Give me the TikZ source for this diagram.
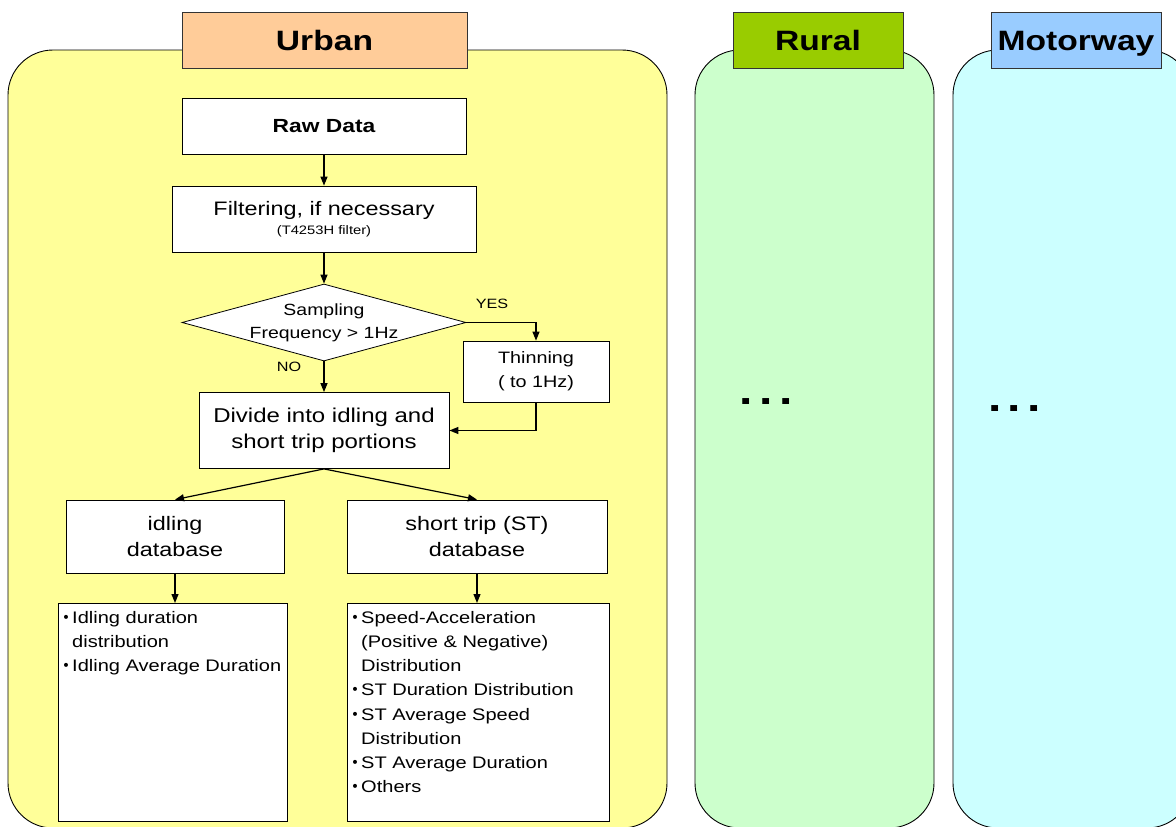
\documentclass[tikz,border=0pt]{standalone}
\usepackage{fontspec}
\setmainfont{Liberation Sans}[FakeStretch=1.2]
\newfontfamily\cjk{Noto Sans CJK JP}
\usetikzlibrary{shapes.geometric,arrows.meta}
\definecolor{urbanbg}{HTML}{FFFF99}
\definecolor{urbanlab}{HTML}{FFCC99}
\definecolor{ruralbg}{HTML}{CCFFCC}
\definecolor{rurallab}{HTML}{99CC00}
\definecolor{motorbg}{HTML}{CCFFFF}
\definecolor{motorlab}{HTML}{99CCFF}
\newcommand{\fsz}[2]{\fontsize{#1}{#2}\selectfont}
\newcommand{\bul}{\makebox[12pt][l]{\raisebox{-3pt}{\fsz{24}{24}\cjk ･}}}
\newcommand{\ind}{\hspace*{12pt}}
\begin{document}
\begin{tikzpicture}[x=1pt,y=-1pt,
  panel/.style={draw=black, line width=0.9pt, rounded corners=45pt},
  titlebox/.style={draw=black!80, line width=0.9pt, inner sep=0pt, text height=20pt, text depth=0pt, font=\fsz{28}{32}\bfseries},
  flowbox/.style={draw=black, fill=white, line width=0.8pt, inner sep=0pt, align=center},
  listbox/.style={draw=black, fill=white, line width=0.8pt, inner sep=0pt, anchor=north west},
  listtext/.style={inner sep=0pt, anchor=north west, align=left, font=\fsz{16.7}{24.2}},
  arr/.style={draw=black, line width=1.2pt, -{Triangle[length=9pt,width=7pt]}},
  lbl/.style={inner sep=0pt, font=\fsz{13.5}{16}},
  dots/.style={inner sep=0pt, font=\fsz{40}{40}\bfseries}
]
\useasboundingbox (0,0) rectangle (1176,827);
\clip (0,0) rectangle (1176,827);
% panels
\draw[panel, fill=urbanbg] (8,50) rectangle (667,828);
\draw[panel, fill=ruralbg] (695,50) rectangle (934,828);
\draw[panel, fill=motorbg] (953,50) rectangle (1192,828);
% titles
\node[titlebox, fill=urbanlab, minimum width=285pt, minimum height=56pt] (urbant) at (324.5,40) {Urban};
\node[titlebox, fill=rurallab, minimum width=170pt, minimum height=56pt] (ruralt) at (818,40) {Rural};
\node[titlebox, fill=motorlab, minimum width=170pt, minimum height=56pt] (motort) at (1076,40) {Motorway};
% dots
\node[dots] (rdots) at (766,401.5) {.\kern6.5pt.\kern6.5pt.};
\node[dots] (mdots) at (1014.5,409) {.\kern6.5pt.\kern6.5pt.};
% flow
\node[flowbox, minimum width=284pt, minimum height=56pt, font=\fsz{19}{22}\bfseries] (raw) at (324,126) {Raw Data};
\node[flowbox, minimum width=304pt, minimum height=66pt, font=\fsz{19.5}{21}] (filt) at (324,219) {Filtering, if necessary\\[-2pt]{\fsz{12.3}{14}(T4253H filter)}};
\node[draw=black, fill=white, line width=0.8pt, diamond, aspect=3.7, inner sep=0pt, minimum width=284pt, minimum height=77pt] (dia) at (324,322.5) {};
\node[inner sep=0pt, align=center, font=\fsz{16.2}{23}] (diat) at (324,323) {Sampling\\Frequency > 1Hz};
\node[flowbox, minimum width=146pt, minimum height=61pt, font=\fsz{16.5}{24}] (thin) at (536,371.5) {Thinning\\( to 1Hz)};
\node[flowbox, minimum width=250pt, minimum height=76pt, font=\fsz{20}{26}] (div) at (324,430.5) {Divide into idling and\\short trip portions};
\node[flowbox, minimum width=218pt, minimum height=73pt, font=\fsz{19.5}{26}] (idb) at (175,536.5) {idling\\database};
\node[flowbox, minimum width=260pt, minimum height=73pt, font=\fsz{19.5}{26}] (sdb) at (477,536.5) {short trip (ST)\\database};
\node[listbox, minimum width=229pt, minimum height=218pt] (il) at (58,603) {};
\node[listbox, minimum width=262pt, minimum height=218pt] (sl) at (347,603) {};
\node[listtext] (ilt) at (60,611) {\bul Idling duration\\\ind distribution\\\bul Idling Average Duration};
\node[listtext] (slt) at (349,611) {\bul Speed-Acceleration\\\ind (Positive \& Negative)\\\ind Distribution\\\bul ST Duration Distribution\\\bul ST Average Speed\\\ind Distribution\\\bul ST Average Duration\\\bul Others};
\node[lbl] (yes) at (492,304) {YES};
\node[lbl] (no) at (289,367) {NO};
% connectors
\draw[arr] (raw.south) -- (filt.north);
\draw[arr] (filt.south) -- (dia.north);
\draw[arr] (dia.east) -| (thin.north);
\draw[arr] (dia.south) -- (div.north);
\draw[arr] (thin.south) |- (div.east);
\draw[arr] (div.south) -- (idb.north);
\draw[arr] (div.south) -- (sdb.north);
\draw[arr] (idb.south) -- (il.north -| idb.south);
\draw[arr] (sdb.south) -- (sl.north -| sdb.south);
\end{tikzpicture}
\end{document}
